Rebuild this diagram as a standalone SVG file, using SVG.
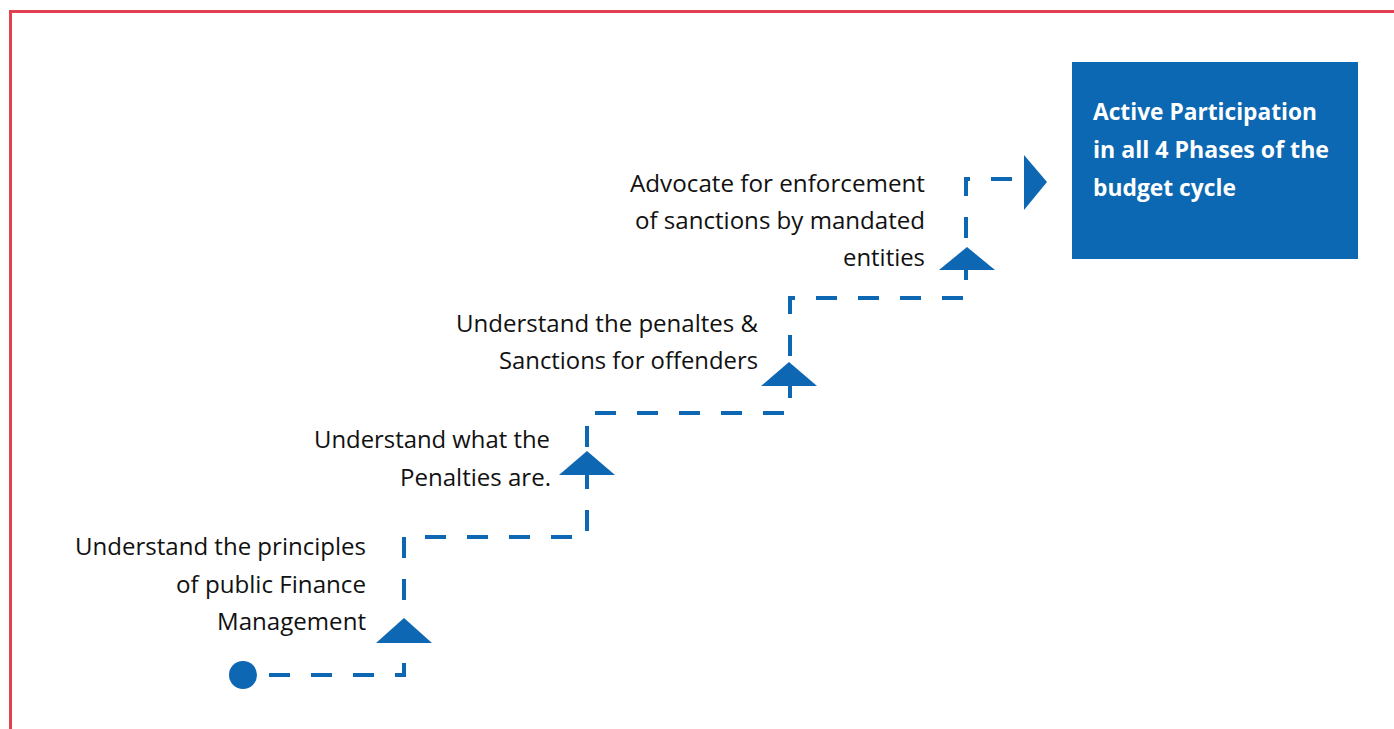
<svg xmlns="http://www.w3.org/2000/svg" width="1394" height="729" viewBox="0 0 1394 729">
<style>
.lbl{font-family:"Open Sans","Liberation Sans",sans-serif;font-size:23px;fill:#111111;text-anchor:end}
.box{font-family:"Open Sans","Liberation Sans",sans-serif;font-size:23px;font-weight:bold;fill:#ffffff}
.dash{fill:none;stroke:#0E67B2;stroke-width:4;stroke-dasharray:21 21}
.tri{fill:#0E67B2}
</style>
<rect x="0" y="0" width="1394" height="729" fill="#ffffff"/>
<rect x="10.5" y="11.5" width="1400" height="740" fill="none" stroke="#E0404F" stroke-width="3"/>
<g id="connectors">
<path class="dash" d="M269,675 H404 V537 H587 V413 H790 V298 H966 V179 H1030"/>
<polygon class="tri" points="404,618 376,643 432,643"/>
<polygon class="tri" points="587,451 559,475 615,475"/>
<polygon class="tri" points="789,362 761,386 817,386"/>
<polygon class="tri" points="967,247 939,270 995,270"/>
<polygon class="tri" points="1024,155 1047,182 1024,210"/>
</g>
<g id="start">
<circle cx="243" cy="675" r="14" fill="#0E67B2"/>
</g>
<g id="step1">
<text class="lbl" x="366" y="555" textLength="291" lengthAdjust="spacingAndGlyphs">Understand the principles</text>
<text class="lbl" x="366" y="593" textLength="190" lengthAdjust="spacingAndGlyphs">of public Finance</text>
<text class="lbl" x="366" y="630" textLength="149" lengthAdjust="spacingAndGlyphs">Management</text>
</g>
<g id="step2">
<text class="lbl" x="550" y="448" textLength="236" lengthAdjust="spacingAndGlyphs">Understand what the</text>
<text class="lbl" x="551" y="486" textLength="151" lengthAdjust="spacingAndGlyphs">Penalties are.</text>
</g>
<g id="step3">
<text class="lbl" x="758" y="332" textLength="302" lengthAdjust="spacingAndGlyphs">Understand the penaltes &amp;</text>
<text class="lbl" x="758" y="369" textLength="259" lengthAdjust="spacingAndGlyphs">Sanctions for offenders</text>
</g>
<g id="step4">
<text class="lbl" x="925" y="192" textLength="295" lengthAdjust="spacingAndGlyphs">Advocate for enforcement</text>
<text class="lbl" x="925" y="229" textLength="290" lengthAdjust="spacingAndGlyphs">of sanctions by mandated</text>
<text class="lbl" x="925" y="266" textLength="82" lengthAdjust="spacingAndGlyphs">entities</text>
</g>
<g id="goal">
<rect x="1072" y="62" width="286" height="197" fill="#0C68B2"/>
<text class="box" x="1093" y="120" textLength="224" lengthAdjust="spacingAndGlyphs">Active Participation</text>
<text class="box" x="1093" y="158" textLength="236" lengthAdjust="spacingAndGlyphs">in all 4 Phases of the</text>
<text class="box" x="1093" y="196" textLength="143" lengthAdjust="spacingAndGlyphs">budget cycle</text>
</g>
</svg>
